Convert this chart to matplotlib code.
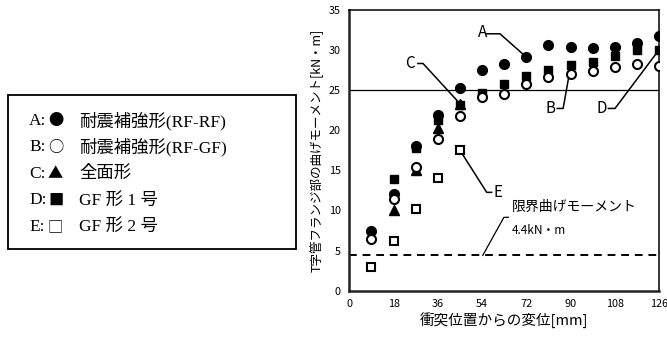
import matplotlib
matplotlib.use("Agg")
import matplotlib.pyplot as plt
from matplotlib.patches import Rectangle

plt.rcParams['font.family'] = ['Noto Sans CJK JP', 'DejaVu Sans']

# data (displacement [mm], moment [kN·m])
x_a = [9, 18, 27, 36, 45, 54, 63, 72, 81, 90, 99, 108, 117, 126]
y_a = [7.4, 12.1, 18.0, 21.9, 25.2, 27.5, 28.2, 29.1, 30.6, 30.4, 30.2, 30.4, 30.8, 31.7]
x_b = [9, 18, 27, 36, 45, 54, 63, 72, 81, 90, 99, 108, 117, 126]
y_b = [6.5, 11.4, 15.4, 18.9, 21.7, 24.1, 24.5, 25.7, 26.6, 27.0, 27.4, 27.9, 28.2, 28.0]
x_c = [18, 27, 36, 45]
y_c = [10.0, 15.0, 20.3, 23.3]
x_d = [18, 27, 36, 45, 54, 63, 72, 81, 90, 99, 108, 117, 126]
y_d = [13.9, 17.8, 21.3, 23.1, 24.6, 25.8, 26.7, 27.5, 28.1, 28.5, 29.2, 30.0, 30.0]
x_e = [9, 18, 27, 36, 45]
y_e = [2.9, 6.2, 10.2, 14.0, 17.5]
limit = 4.4
ref_line = 25

legend_keys = ['A:', 'B:', 'C:', 'D:', 'E:']
legend_marks = ['●', '○', '▲', '■', '□']
legend_names = ['耐震補強形(RF-RF)', '耐震補強形(RF-GF)', '全面形', 'GF 形 1 号', 'GF 形 2 号']

W, H = 667, 338
fig = plt.figure(figsize=(W / 100, H / 100), dpi=100)
ax = fig.add_axes([349.3 / W, 1 - 290.7 / H, 309.7 / W, 281.0 / H])

ax.axhline(ref_line, color='black', lw=0.9, zorder=1)
ax.axhline(limit, color='black', lw=1.4, ls=(0, (4, 3)), zorder=1)

ms = 6.5
ax.plot(x_e, y_e, 's', ms=ms - 0.5, mfc='white', mec='black', mew=1.5, ls='none', zorder=3)
ax.plot(x_c, y_c, '^', ms=ms, color='black', ls='none', zorder=3)
ax.plot(x_d, y_d, 's', ms=ms - 0.8, color='black', ls='none', zorder=4)
ax.plot(x_a, y_a, 'o', ms=ms + 0.5, color='black', ls='none', zorder=5)
ax.plot(x_b, y_b, 'o', ms=ms, mfc='white', mec='black', mew=1.5, ls='none', zorder=6)

# leader lines with letter labels
lead = dict(color='black', lw=1.1, zorder=2)
ax.text(54.4, 32.1, 'A', fontsize=11, ha='center', va='center')
ax.plot([55.9, 61.3, x_a[7]], [32.0, 32.0, y_a[7]], **lead)
ax.text(24.7, 28.3, 'C', fontsize=11, ha='center', va='center')
ax.plot([27.9, 30.0, x_c[3]], [28.3, 28.3, y_c[3]], **lead)
ax.text(81.7, 22.7, 'B', fontsize=11, ha='center', va='center')
ax.plot([84.6, 87.0, x_b[9] - 0.5], [22.7, 22.7, y_b[9]], **lead)
ax.text(102.7, 22.7, 'D', fontsize=11, ha='center', va='center')
ax.plot([105.4, 108.1, x_d[12]], [22.7, 22.7, y_d[12]], **lead)
ax.text(60.6, 12.25, 'E', fontsize=11, ha='center', va='center')
ax.plot([57.9, 55.9, x_e[4]], [12.25, 12.25, y_e[4]], **lead)
ax.text(66.1, 10.45, '限界曲げモーメント', fontsize=10, ha='left', va='center')
ax.text(66.1, 7.45, '4.4kN・m', fontsize=8.5, ha='left', va='center')
ax.plot([64.7, 62.9, 54.3], [9.14, 9.14, limit], color='black', lw=0.9, zorder=2)

ax.set_xlim(0, 126)
ax.set_ylim(0, 35)
ax.set_xticks(range(0, 127, 18))
ax.set_yticks(range(0, 36, 5))
ax.tick_params(length=0, labelsize=7.8, pad=6)
for s in ['left', 'bottom']:
    ax.spines[s].set_linewidth(1.8)
    ax.spines[s].set_color('#222222')
for s in ['top', 'right']:
    ax.spines[s].set_linewidth(1.1)
ax.set_xlabel('衝突位置からの変位[mm]', fontsize=10.5, labelpad=2)
ax.set_ylabel('T字管フランジ部の曲げモーメント[kN・m]', fontsize=9, labelpad=4)

# legend box drawn in figure coordinates
fig.patches.append(Rectangle((8 / W, 1 - 249 / H), 288 / W, 154 / H, transform=fig.transFigure,
                             fill=False, ec='black', lw=1.3))
serif = ['Liberation Serif', 'Noto Sans CJK JP']
for i, (k, m, n) in enumerate(zip(legend_keys, legend_marks, legend_names)):
    yy = 1 - (121 + i * 26.5) / H
    fig.text(29 / W, yy, k, fontsize=12.5, family=serif, va='center', ha='left')
    fig.text(48 / W, yy, m, fontsize=11, family='Noto Sans CJK JP', va='center', ha='left')
    fig.text(79 / W, yy, n, fontsize=12.5, family=serif, va='center', ha='left')

fig.savefig('out.png', dpi=100)
